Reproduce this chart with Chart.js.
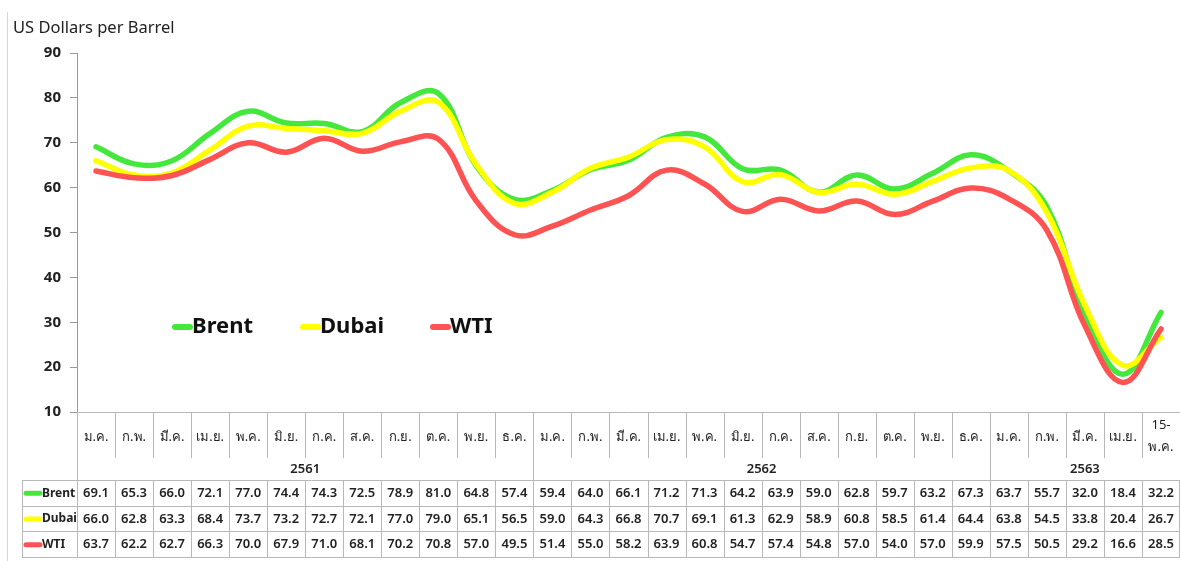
<!DOCTYPE html>
<html>
<head>
<meta charset="utf-8">
<script src="https://cdn.jsdelivr.net/npm/chart.js@4.4.1/dist/chart.umd.min.js"></script>
<style>
  html, body { margin: 0; padding: 0; background: #ffffff; }
  #wrap { position: relative; width: 1180px; height: 561px; }
</style>
</head>
<body>
<div id="wrap"><canvas id="c" width="1180" height="561"></canvas></div>
<script>
const categories = ['ม.ค.','ก.พ.','มี.ค.','เม.ย.','พ.ค.','มิ.ย.','ก.ค.','ส.ค.','ก.ย.','ต.ค.','พ.ย.','ธ.ค.',
                    'ม.ค.','ก.พ.','มี.ค.','เม.ย.','พ.ค.','มิ.ย.','ก.ค.','ส.ค.','ก.ย.','ต.ค.','พ.ย.','ธ.ค.',
                    'ม.ค.','ก.พ.','มี.ค.','เม.ย.',['15-','พ.ค.']];
const years = ['2561','2562','2563'];
const yearMonths = [12, 12, 5];
const brent = [69.1,65.3,66.0,72.1,77.0,74.4,74.3,72.5,78.9,81.0,64.8,57.4,59.4,64.0,66.1,71.2,71.3,64.2,63.9,59.0,62.8,59.7,63.2,67.3,63.7,55.7,32.0,18.4,32.2];
const dubai = [66.0,62.8,63.3,68.4,73.7,73.2,72.7,72.1,77.0,79.0,65.1,56.5,59.0,64.3,66.8,70.7,69.1,61.3,62.9,58.9,60.8,58.5,61.4,64.4,63.8,54.5,33.8,20.4,26.7];
const wti   = [63.7,62.2,62.7,66.3,70.0,67.9,71.0,68.1,70.2,70.8,57.0,49.5,51.4,55.0,58.2,63.9,60.8,54.7,57.4,54.8,57.0,54.0,57.0,59.9,57.5,50.5,29.2,16.6,28.5];
const seriesNames = ['Brent','Dubai','WTI'];
const yTicks = [10,20,30,40,50,60,70,80,90];
const yTitle = 'US Dollars per Barrel';

const FONT = "'Noto Sans', 'DejaVu Sans', sans-serif";
const COLORS = ['#44E83C', '#FFFF00', '#FF5252'];
const GRID = '#b8b8b8';
const TXT = '#222222';

const tablePlugin = {
  id: 'tableAndDecor',
  afterDraw(chart) {
    const { ctx, chartArea: a, scales: { x } } = chart;
    const n = categories.length;
    const w = x.getPixelForValue(1) - x.getPixelForValue(0);
    const left = i => x.getPixelForValue(i) - w / 2;
    const right = x.getPixelForValue(n - 1) + w / 2;
    const top = a.bottom;
    const monthBottom = top + 46;
    const yearBottom = top + 68;
    const rowH = 25.7;
    const labelLeft = 22;
    ctx.save();

    // outer frame line on the left
    ctx.strokeStyle = '#d6d6d6';
    ctx.lineWidth = 1;
    ctx.beginPath(); ctx.moveTo(7.5, 12); ctx.lineTo(7.5, 561); ctx.stroke();

    // title
    ctx.fillStyle = TXT;
    ctx.font = `16.5px ${FONT}`;
    ctx.textAlign = 'left';
    ctx.textBaseline = 'alphabetic';
    ctx.fillText(yTitle, 13, 33);

    ctx.strokeStyle = GRID;
    ctx.lineWidth = 1;
    // x axis line
    ctx.beginPath(); ctx.moveTo(a.left, top + 0.5); ctx.lineTo(right, top + 0.5); ctx.stroke();
    // column separators in month/year rows
    let cum = 0; const yearEdges = new Set();
    yearMonths.forEach(m => { cum += m; yearEdges.add(cum); });
    for (let i = 1; i < n; i++) {
      const xx = Math.round(left(i)) + 0.5;
      ctx.beginPath();
      ctx.moveTo(xx, top);
      ctx.lineTo(xx, yearEdges.has(i) ? yearBottom : monthBottom);
      ctx.stroke();
    }
    // left vertical line below axis
    ctx.beginPath(); ctx.moveTo(Math.round(a.left) + 0.5, top); ctx.lineTo(Math.round(a.left) + 0.5, yearBottom + rowH * 3); ctx.stroke();

    // month labels
    ctx.fillStyle = TXT;
    ctx.font = `13px ${FONT}`;
    ctx.textAlign = 'center';
    ctx.textBaseline = 'middle';
    categories.forEach((c, i) => {
      const cx = x.getPixelForValue(i);
      if (Array.isArray(c)) {
        ctx.fillText(c[0], cx, top + 13);
        ctx.fillText(c[1], cx, top + 35);
      } else {
        ctx.fillText(c, cx, top + 25);
      }
    });
    // year labels
    ctx.font = `600 13px ${FONT}`;
    let start = 0;
    years.forEach((yl, k) => {
      const end = start + yearMonths[k];
      const xl = left(start);
      const xr = end >= n ? chart.width : left(end);
      ctx.fillText(yl, (xl + xr) / 2, top + 57);
      start = end;
    });

    // data table grid
    ctx.strokeStyle = GRID;
    for (let r = 0; r <= 3; r++) {
      const yy = Math.round(yearBottom + r * rowH) + 0.5;
      ctx.beginPath(); ctx.moveTo(labelLeft, yy); ctx.lineTo(right, yy); ctx.stroke();
    }
    const tb = yearBottom, bb = yearBottom + rowH * 3;
    ctx.beginPath(); ctx.moveTo(labelLeft + 0.5, tb); ctx.lineTo(labelLeft + 0.5, bb); ctx.stroke();
    for (let i = 1; i <= n; i++) {
      const xx = Math.min(Math.round(left(i)) + 0.5, chart.width - 0.5);
      ctx.beginPath(); ctx.moveTo(xx, tb); ctx.lineTo(xx, bb); ctx.stroke();
    }
    // row labels and values
    const rows = [brent, dubai, wti];
    rows.forEach((vals, r) => {
      const cy = yearBottom + r * rowH + rowH / 2 + 0.5;
      ctx.strokeStyle = COLORS[r];
      ctx.lineWidth = 5;
      ctx.lineCap = 'round';
      ctx.beginPath(); ctx.moveTo(labelLeft + 4, cy); ctx.lineTo(labelLeft + 18, cy); ctx.stroke();
      ctx.fillStyle = TXT;
      ctx.font = `bold 12px ${FONT}`;
      ctx.textAlign = 'left';
      ctx.fillText(seriesNames[r], labelLeft + 20, cy);
      ctx.font = `600 13px ${FONT}`;
      ctx.textAlign = 'center';
      vals.forEach((v, i) => ctx.fillText(v.toFixed(1), x.getPixelForValue(i), cy));
    });

    // legend inside plot
    const legX = [a.left + 95, a.left + 223, a.left + 353];
    const legY = 327;
    seriesNames.forEach((name, k) => {
      ctx.strokeStyle = COLORS[k];
      ctx.lineWidth = 6;
      ctx.lineCap = 'round';
      ctx.beginPath(); ctx.moveTo(legX[k] + 3, legY); ctx.lineTo(legX[k] + 18, legY); ctx.stroke();
      ctx.fillStyle = '#111';
      ctx.font = `bold 22px ${FONT}`;
      ctx.textAlign = 'left';
      ctx.textBaseline = 'middle';
      ctx.fillText(name, legX[k] + 20, legY);
    });
    ctx.restore();
  }
};

const labelsFlat = categories.map(c => Array.isArray(c) ? c.join(' ') : c);
const mk = (label, data, color, order) => ({
  label, data, borderColor: color, backgroundColor: color,
  borderWidth: 5.5, pointRadius: 0, tension: 0.4, fill: false, order,
  borderCapStyle: 'round', borderJoinStyle: 'round'
});

new Chart(document.getElementById('c'), {
  type: 'line',
  data: {
    labels: labelsFlat,
    datasets: [
      mk(seriesNames[0], brent, COLORS[0], 3),
      mk(seriesNames[1], dubai, COLORS[1], 2),
      mk(seriesNames[2], wti, COLORS[2], 1)
    ]
  },
  plugins: [tablePlugin],
  options: {
    responsive: false,
    animation: false,
    devicePixelRatio: 1,
    layout: { padding: { top: 53, bottom: 149, left: 0, right: 0 } },
    plugins: { legend: { display: false }, tooltip: { enabled: false }, title: { display: false } },
    scales: {
      x: { type: 'category', display: false, offset: true },
      y: {
        min: yTicks[0], max: yTicks[yTicks.length - 1],
        afterFit: s => { s.width = 77; },
        afterBuildTicks: s => { s.ticks = yTicks.map(v => ({ value: v })); },
        ticks: { color: TXT, font: { family: FONT, size: 15, weight: 'bold' }, padding: 9 },
        grid: { drawOnChartArea: false, drawTicks: true, tickLength: 7, color: '#999' },
        border: { display: true, color: '#999' }
      }
    }
  }
});
</script>
</body>
</html>
